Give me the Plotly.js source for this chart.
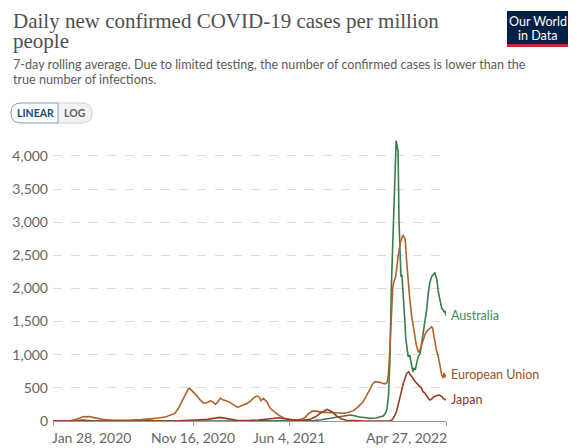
<!DOCTYPE html>
<html>
<head>
<meta charset="utf-8">
<script src="https://cdn.plot.ly/plotly-3.0.1.min.js"></script>
<style>html,body{margin:0;padding:0;background:#fff;}#chart{width:581px;height:448px;}</style>
</head>
<body>
<div id="chart"></div>
<script>
// ---------------- DATA ----------------
const chartTitle1 = "Daily new confirmed COVID-19 cases per million";
const chartTitle2 = "people";
const subtitle1 = "7-day rolling average. Due to limited testing, the number of confirmed cases is lower than the";
const subtitle2 = "true number of infections.";
const seriesNames = ["Australia", "European Union", "Japan"];

const xStart = "2020-01-28";
const xEnd = "2022-04-27";
const xTickVals = ["2020-01-28", "2020-11-16", "2021-06-04", "2022-04-27"];
const xTickText = ["Jan 28, 2020", "Nov 16, 2020", "Jun 4, 2021", "Apr 27, 2022"];
const yTickVals = [0, 500, 1000, 1500, 2000, 2500, 3000, 3500, 4000];
const yTickText = ["0", "500", "1,000", "1,500", "2,000", "2,500", "3,000", "3,500", "4,000"];

const auDates = ["2020-01-28","2020-03-01","2020-03-15","2020-03-28","2020-04-08","2020-04-25","2020-06-15","2020-07-10","2020-08-05","2020-08-25","2020-09-20","2020-11-01","2021-01-05","2021-06-15","2021-07-10","2021-07-25","2021-08-10","2021-08-25","2021-09-08","2021-09-20","2021-10-01","2021-10-09","2021-10-18","2021-10-28","2021-11-08","2021-11-20","2021-12-01","2021-12-10","2021-12-17","2021-12-22","2021-12-25","2021-12-28","2021-12-31","2022-01-03","2022-01-06","2022-01-09","2022-01-11","2022-01-13","2022-01-15","2022-01-17","2022-01-19","2022-01-21","2022-01-23","2022-01-25","2022-01-27","2022-01-29","2022-01-31","2022-02-02","2022-02-04","2022-02-07","2022-02-10","2022-02-13","2022-02-17","2022-02-19","2022-02-22","2022-02-25","2022-02-28","2022-03-04","2022-03-08","2022-03-11","2022-03-14","2022-03-18","2022-03-21","2022-03-24","2022-03-28","2022-03-31","2022-04-02","2022-04-04","2022-04-06","2022-04-08","2022-04-11","2022-04-13","2022-04-16","2022-04-18","2022-04-21","2022-04-23","2022-04-25","2022-04-27"];
const auVals = [0,0.2,4,14,6,1,1,7,17,8,2,0.5,1,0.5,3,7,18,35,52,62,75,90,78,60,52,40,46,56,75,120,190,380,920,2027,2781,3300,3850,4229,4150,4064,3000,2430,2178,2210,2027,1780,1524,1250,1121,970,996,870,744,800,770,880,970,1021,1200,1350,1480,1700,1927,2078,2178,2210,2218,2240,2180,2128,1950,1876,1760,1700,1675,1640,1660,1590];

const euDates = ["2020-01-28","2020-02-20","2020-03-05","2020-03-15","2020-03-25","2020-04-01","2020-04-06","2020-04-12","2020-04-20","2020-05-01","2020-05-15","2020-06-01","2020-06-20","2020-07-10","2020-07-30","2020-08-20","2020-09-05","2020-09-20","2020-10-01","2020-10-08","2020-10-15","2020-10-22","2020-10-29","2020-11-05","2020-11-08","2020-11-14","2020-11-22","2020-12-01","2020-12-07","2020-12-14","2020-12-21","2020-12-26","2021-01-01","2021-01-06","2021-01-11","2021-01-16","2021-01-22","2021-01-30","2021-02-08","2021-02-16","2021-02-25","2021-03-07","2021-03-15","2021-03-22","2021-03-28","2021-04-02","2021-04-06","2021-04-11","2021-04-18","2021-04-25","2021-05-02","2021-05-09","2021-05-16","2021-05-25","2021-06-05","2021-06-20","2021-07-01","2021-07-08","2021-07-14","2021-07-20","2021-07-25","2021-08-01","2021-08-10","2021-08-20","2021-09-01","2021-09-12","2021-09-25","2021-10-05","2021-10-16","2021-10-25","2021-11-05","2021-11-12","2021-11-19","2021-11-26","2021-11-30","2021-12-05","2021-12-10","2021-12-15","2021-12-21","2021-12-25","2021-12-28","2021-12-31","2022-01-03","2022-01-06","2022-01-09","2022-01-12","2022-01-17","2022-01-22","2022-01-27","2022-02-01","2022-02-04","2022-02-07","2022-02-10","2022-02-14","2022-02-17","2022-02-21","2022-02-24","2022-02-28","2022-03-02","2022-03-05","2022-03-08","2022-03-14","2022-03-17","2022-03-24","2022-03-28","2022-03-30","2022-04-02","2022-04-07","2022-04-11","2022-04-14","2022-04-18","2022-04-21","2022-04-23","2022-04-25","2022-04-27"];
const euVals = [0,0.2,3,22,55,68,62,68,55,35,20,10,8,12,20,32,45,65,90,115,180,280,390,480,493,455,390,310,270,275,305,290,250,290,345,320,310,285,245,205,235,260,300,350,377,365,305,340,290,195,150,110,75,40,20,14,28,60,110,140,152,145,130,130,128,122,116,128,156,210,291,380,468,570,593,590,583,570,560,580,720,1121,1625,2027,2120,2178,2480,2700,2807,2740,2400,2100,1876,1600,1450,1272,1150,1046,1040,1100,1172,1300,1348,1398,1423,1400,1272,1071,970,820,694,650,720,660,700];

const jpDates = ["2020-01-28","2020-03-20","2020-04-12","2020-05-15","2020-07-01","2020-08-05","2020-09-01","2020-10-15","2020-11-20","2020-12-15","2021-01-10","2021-01-25","2021-02-15","2021-03-10","2021-04-01","2021-04-25","2021-05-12","2021-05-25","2021-06-15","2021-07-01","2021-07-15","2021-07-28","2021-08-08","2021-08-22","2021-09-01","2021-09-10","2021-09-20","2021-10-01","2021-10-15","2021-11-01","2021-12-01","2021-12-31","2022-01-05","2022-01-10","2022-01-14","2022-01-21","2022-01-28","2022-02-04","2022-02-08","2022-02-11","2022-02-15","2022-02-21","2022-02-28","2022-03-07","2022-03-10","2022-03-14","2022-03-21","2022-03-24","2022-03-28","2022-04-02","2022-04-08","2022-04-13","2022-04-18","2022-04-21","2022-04-27"];
const jpVals = [0,0.5,4,0.5,1,9,4,4,15,25,55,35,10,8,15,35,50,35,13,12,20,60,120,176,140,80,35,12,5,2,1,3,20,80,150,370,568,719,744,700,668,600,540,493,442,420,342,317,330,367,385,392,370,342,317];

const seriesColors = ["#3b7d4a", "#b0622a", "#9c3a1f"];
const labelColors = ["#3f8a56", "#9a5129", "#8e3a28"];

// ---------------- LAYOUT HELPERS ----------------
const L = 53, R = 446, T = 136, B = 421, WIDTH = 581, HEIGHT = 448;
const px = x => (x - L) / (R - L);
const py = y => (B - y) / (B - T);

function roundedPath(x0, y0, x1, y1, rl, rr) {
  const P = (x, y) => px(x).toFixed(5) + "," + py(y).toFixed(5);
  let d = "M" + P(x0 + rl, y0) + " L" + P(x1 - rr, y0);
  d += rr ? " Q" + P(x1, y0) + " " + P(x1, y0 + rr) + " L" + P(x1, y1 - rr) + " Q" + P(x1, y1) + " " + P(x1 - rr, y1) : " L" + P(x1, y0) + " L" + P(x1, y1);
  d += " L" + P(x0 + rl, y1);
  d += rl ? " Q" + P(x0, y1) + " " + P(x0, y1 - rl) + " L" + P(x0, y0 + rl) + " Q" + P(x0, y0) + " " + P(x0 + rl, y0) : " L" + P(x0, y1) + " L" + P(x0, y0);
  return d + " Z";
}

const allDates = [auDates, euDates, jpDates];
const allVals = [auVals, euVals, jpVals];

const traces = allDates.map((d, i) => ({
  type: "scatter", mode: "lines", x: d, y: allVals[i], name: seriesNames[i],
  line: {color: seriesColors[i], width: 1.6}, hoverinfo: "skip"
}));

const annotations = [];
annotations.push({xref:"paper", yref:"paper", x:px(11), y:py(21), xanchor:"left", yanchor:"middle", showarrow:false,
  text: chartTitle1, font:{family:"Liberation Serif, serif", size:21, color:"#4f4f4f"}});
annotations.push({xref:"paper", yref:"paper", x:px(11), y:py(41), xanchor:"left", yanchor:"middle", showarrow:false,
  text: chartTitle2, font:{family:"Liberation Serif, serif", size:21, color:"#4f4f4f"}});
annotations.push({xref:"paper", yref:"paper", x:px(11), y:py(64), xanchor:"left", yanchor:"middle", showarrow:false,
  text: subtitle1, font:{family:"Lato", size:12.6, color:"#5b5b5b"}});
annotations.push({xref:"paper", yref:"paper", x:px(11), y:py(79), xanchor:"left", yanchor:"middle", showarrow:false,
  text: subtitle2, font:{family:"Lato", size:12.6, color:"#5b5b5b"}});
annotations.push({xref:"paper", yref:"paper", x:px(537.5), y:py(21), xanchor:"center", yanchor:"middle", showarrow:false,
  text:"Our World", font:{family:"Lato", size:12.5, color:"#ffffff"}});
annotations.push({xref:"paper", yref:"paper", x:px(537.5), y:py(35), xanchor:"center", yanchor:"middle", showarrow:false,
  text:"in Data", font:{family:"Lato", size:12.5, color:"#ffffff"}});
annotations.push({xref:"paper", yref:"paper", x:px(35), y:py(113), xanchor:"center", yanchor:"middle", showarrow:false,
  text:"<b>LINEAR</b>", font:{family:"Lato", size:10.5, color:"#24466f"}});
annotations.push({xref:"paper", yref:"paper", x:px(75), y:py(113), xanchor:"center", yanchor:"middle", showarrow:false,
  text:"<b>LOG</b>", font:{family:"Lato", size:10.5, color:"#5f5f5f"}});
xTickVals.forEach((v, i) => {
  const last = xTickVals.length - 1;
  const anchor = i === 0 ? "left" : (i === last ? "right" : "center");
  const shift = i === 0 ? -3 : (i === last ? 3 : 0);
  annotations.push({xref:"x", yref:"paper", x:v, y:0, yanchor:"top", yshift:-6, xanchor:anchor, xshift:shift, showarrow:false,
    text:xTickText[i], font:{family:"Lato", size:14, color:"#666"}});
});
seriesNames.forEach((n, i) => {
  const d = allDates[i], v = allVals[i];
  annotations.push({xref:"x", yref:"y", x:d[d.length-1], y:v[v.length-1], xanchor:"left", yanchor:"middle", xshift:3,
    showarrow:false, text:n, font:{family:"Lato", size:12.5, color:labelColors[i]}});
});

const shapes = [
  {type:"rect", xref:"paper", yref:"paper", x0:px(507), x1:px(568), y0:py(47), y1:py(11), fillcolor:"#002147", line:{width:0}, layer:"above"},
  {type:"rect", xref:"paper", yref:"paper", x0:px(507), x1:px(568), y0:py(47), y1:py(44), fillcolor:"#c8252c", line:{width:0}, layer:"above"},
  {type:"path", xref:"paper", yref:"paper", path:roundedPath(56, 103, 92, 123, 0, 10), fillcolor:"#f2f2f2", line:{color:"#cfcfcf", width:1}, layer:"above"},
  {type:"path", xref:"paper", yref:"paper", path:roundedPath(11, 103, 58, 123, 10, 0), fillcolor:"#ffffff", line:{color:"#7d9cc4", width:1}, layer:"above"}
];

const layout = {
  width: WIDTH, height: HEIGHT,
  margin: {l: L, r: WIDTH - R, t: T, b: HEIGHT - B, pad: 0},
  paper_bgcolor: "#ffffff", plot_bgcolor: "#ffffff",
  showlegend: false,
  xaxis: {type:"date", range:[xStart, xEnd], tickvals:xTickVals, showticklabels:false, ticks:"outside", ticklen:4,
    tickcolor:"#999", showgrid:false, showline:true, linecolor:"#999", linewidth:1, zeroline:false, fixedrange:true},
  yaxis: {range:[0, 4300], tickvals:yTickVals, ticktext:yTickText, tickfont:{family:"Lato", size:14, color:"#666"},
    ticklabelstandoff:4, showgrid:true, gridcolor:"#dcdcdc", griddash:"dash", gridwidth:1, zeroline:false, showline:false, ticks:"", fixedrange:true},
  annotations: annotations,
  shapes: shapes
};

Plotly.newPlot("chart", traces, layout, {displayModeBar:false, staticPlot:true});
</script>
</body>
</html>
